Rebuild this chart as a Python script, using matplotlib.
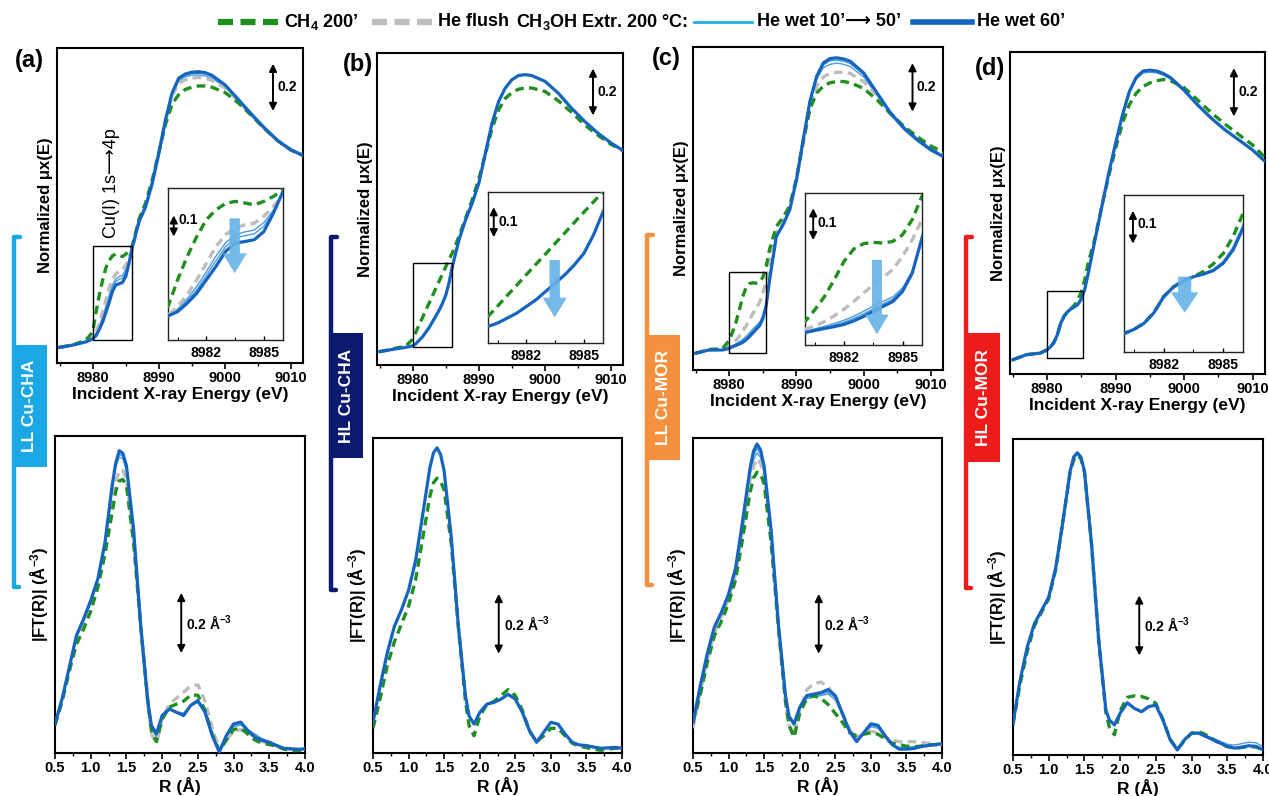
import matplotlib
matplotlib.use("Agg")
import matplotlib.pyplot as plt
from matplotlib.lines import Line2D
from matplotlib.patches import Rectangle, FancyArrow
from matplotlib.ticker import MultipleLocator, FormatStrFormatter

plt.rcParams["font.family"] = ["Liberation Sans", "DejaVu Sans"]
plt.rcParams["font.weight"] = "bold"
plt.rcParams["mathtext.fontset"] = "custom"
plt.rcParams["mathtext.rm"] = "Liberation Sans:bold"
plt.rcParams["mathtext.bf"] = "Liberation Sans:bold"
plt.rcParams["mathtext.default"] = "rm"

# ---- XANES data (normalized mu x(E)) ----
xanes_e = [8975, 8977, 8979, 8980, 8980.5, 8981, 8981.5, 8982, 8982.5, 8983,
           8983.5, 8984, 8984.5, 8985, 8985.5, 8986, 8987, 8988, 8989, 8990,
           8991, 8992, 8993, 8994, 8995, 8996, 8997, 8998, 9000, 9002, 9004,
           9006, 9008, 9010, 9012]

a_xanes_ch4 = [0.003, 0.013, 0.035, 0.070, 0.156, 0.231, 0.295, 0.349, 0.381, 0.401, 0.408, 0.403, 0.397, 0.408, 0.424, 0.446,
               0.56, 0.63, 0.73, 0.85, 0.97, 1.06, 1.10, 1.123, 1.133, 1.138, 1.138, 1.133, 1.11, 1.065, 1.01, 0.952, 0.90, 0.86, 0.833]
a_xanes_flush = [0.003, 0.013, 0.028, 0.043, 0.070, 0.108, 0.156, 0.209, 0.263, 0.301, 0.322, 0.333, 0.338, 0.360, 0.392, 0.429,
                 0.55, 0.615, 0.715, 0.845, 0.985, 1.095, 1.15, 1.165, 1.172, 1.175, 1.172, 1.163, 1.13, 1.072, 1.012, 0.952, 0.899, 0.859, 0.834]
a_xanes_wet = [
    [0.003, 0.013, 0.027, 0.042, 0.062, 0.095, 0.135, 0.182, 0.232, 0.275, 0.300, 0.310, 0.316, 0.340, 0.380, 0.435,
     0.549, 0.614, 0.716, 0.846, 0.99, 1.10, 1.16, 1.178, 1.185, 1.186, 1.182, 1.172, 1.135, 1.075, 1.013, 0.953, 0.899, 0.859, 0.834],
    [0.003, 0.013, 0.027, 0.041, 0.058, 0.088, 0.124, 0.170, 0.217, 0.262, 0.290, 0.298, 0.304, 0.328, 0.375, 0.437,
     0.549, 0.614, 0.716, 0.846, 0.99, 1.104, 1.166, 1.184, 1.192, 1.193, 1.19, 1.179, 1.139, 1.078, 1.015, 0.954, 0.90, 0.86, 0.835],
]
a_xanes_wet60 = [0.003, 0.013, 0.027, 0.040, 0.054, 0.081, 0.113, 0.156, 0.199, 0.247, 0.274, 0.279, 0.285, 0.311, 0.370, 0.440,
                 0.549, 0.614, 0.716, 0.846, 0.991, 1.107, 1.172, 1.19, 1.198, 1.20, 1.196, 1.185, 1.143, 1.08, 1.016, 0.955, 0.90, 0.86, 0.835]

b_xanes_ch4 = [0.0, 0.012, 0.025, 0.055, 0.086, 0.118, 0.149, 0.181, 0.212, 0.243, 0.275, 0.306, 0.338, 0.369, 0.400, 0.430,
               0.50, 0.58, 0.66, 0.75, 0.86, 0.97, 1.05, 1.10, 1.125, 1.14, 1.145, 1.145, 1.13, 1.09, 1.04, 0.985, 0.94, 0.90, 0.87]
b_xanes_wet60 = [0.0, 0.010, 0.019, 0.025, 0.035, 0.050, 0.065, 0.085, 0.105, 0.130, 0.155, 0.180, 0.210, 0.245, 0.300, 0.370,
                 0.486, 0.573, 0.645, 0.732, 0.862, 0.993, 1.087, 1.145, 1.181, 1.199, 1.203, 1.199, 1.174, 1.123, 1.058, 1.000, 0.949, 0.906, 0.870]

c_xanes_ch4 = [0.0, 0.016, 0.020, 0.056, 0.093, 0.135, 0.188, 0.246, 0.285, 0.302, 0.306, 0.304, 0.309, 0.330, 0.378, 0.452,
               0.55, 0.59, 0.64, 0.76, 0.92, 1.06, 1.13, 1.16, 1.175, 1.18, 1.18, 1.175, 1.15, 1.10, 1.04, 0.985, 0.94, 0.90, 0.87]
c_xanes_flush = [0.0, 0.014, 0.016, 0.032, 0.042, 0.056, 0.074, 0.095, 0.119, 0.146, 0.172, 0.196, 0.220, 0.262, 0.314, 0.378,
                 0.52, 0.57, 0.63, 0.755, 0.92, 1.07, 1.16, 1.20, 1.215, 1.22, 1.22, 1.215, 1.18, 1.12, 1.045, 0.98, 0.935, 0.89, 0.86]
c_xanes_wet = [
    [0.0, 0.014, 0.014, 0.025, 0.033, 0.041, 0.050, 0.060, 0.073, 0.088, 0.105, 0.120, 0.134, 0.162, 0.215, 0.32,
     0.507, 0.558, 0.623, 0.754, 0.928, 1.09, 1.19, 1.24, 1.255, 1.26, 1.255, 1.245, 1.20, 1.12, 1.035, 0.97, 0.92, 0.878, 0.848],
    [0.0, 0.014, 0.014, 0.023, 0.030, 0.037, 0.045, 0.054, 0.066, 0.080, 0.096, 0.112, 0.127, 0.157, 0.212, 0.32,
     0.507, 0.558, 0.623, 0.754, 0.928, 1.092, 1.198, 1.252, 1.27, 1.273, 1.268, 1.258, 1.21, 1.126, 1.04, 0.974, 0.924, 0.881, 0.85],
]
c_xanes_wet60 = [0.0, 0.014, 0.014, 0.021, 0.028, 0.034, 0.040, 0.047, 0.058, 0.072, 0.088, 0.104, 0.119, 0.151, 0.209, 0.32,
                 0.507, 0.558, 0.623, 0.754, 0.928, 1.094, 1.203, 1.261, 1.280, 1.283, 1.278, 1.268, 1.217, 1.130, 1.043, 0.978, 0.927, 0.884, 0.852]

d_xanes_ch4 = [0.0, 0.022, 0.029, 0.043, 0.056, 0.075, 0.108, 0.159, 0.190, 0.209, 0.222, 0.238, 0.262, 0.295, 0.348, 0.421,
               0.53, 0.67, 0.80, 0.92, 1.03, 1.11, 1.16, 1.19, 1.205, 1.215, 1.22, 1.215, 1.185, 1.13, 1.075, 1.025, 0.98, 0.935, 0.875]
d_xanes_wet = [
    [0.0, 0.022, 0.029, 0.043, 0.056, 0.075, 0.108, 0.159, 0.190, 0.209, 0.222, 0.233, 0.245, 0.270, 0.315, 0.385,
     0.525, 0.667, 0.81, 0.94, 1.063, 1.163, 1.222, 1.248, 1.252, 1.249, 1.238, 1.222, 1.168, 1.104, 1.047, 0.997, 0.954, 0.911, 0.857],
]
d_xanes_wet60 = [0.0, 0.022, 0.029, 0.043, 0.056, 0.075, 0.108, 0.159, 0.190, 0.209, 0.222, 0.230, 0.241, 0.264, 0.306, 0.374,
                 0.522, 0.667, 0.812, 0.942, 1.065, 1.167, 1.229, 1.257, 1.261, 1.257, 1.246, 1.229, 1.174, 1.109, 1.051, 1.000, 0.957, 0.913, 0.858]

# ---- FT-EXAFS data |FT(R)| ----
exafs_r = [0.5, 0.6, 0.7, 0.8, 0.9, 1.0, 1.1, 1.2, 1.3, 1.35, 1.4, 1.45, 1.5, 1.6, 1.7, 1.8, 1.85, 1.92,
           2.0, 2.1, 2.2, 2.3, 2.4, 2.5, 2.6, 2.7, 2.8, 2.9, 3.0, 3.1, 3.2, 3.3, 3.4, 3.5,
           3.6, 3.7, 3.8, 3.9, 4.0]

a_ft_ch4 = [0.09, 0.17, 0.27, 0.36, 0.41, 0.47, 0.55, 0.66, 0.80, 0.87, 0.905, 0.91, 0.89, 0.70, 0.42, 0.17, 0.07, 0.035,
            0.11, 0.15, 0.16, 0.17, 0.19, 0.19, 0.14, 0.06, 0.005, 0.04, 0.075, 0.08, 0.06, 0.04, 0.03, 0.025,
            0.02, 0.01, 0.005, 0.005, 0.005]
a_ft_flush = [0.09, 0.175, 0.275, 0.375, 0.425, 0.485, 0.56, 0.675, 0.83, 0.90, 0.94, 0.94, 0.91, 0.72, 0.42, 0.16, 0.06, 0.03,
              0.11, 0.16, 0.18, 0.20, 0.22, 0.225, 0.17, 0.08, 0.01, 0.04, 0.07, 0.075, 0.065, 0.05, 0.035, 0.03,
              0.02, 0.012, 0.01, 0.01, 0.01]
a_ft_wet = [
    [0.094, 0.176, 0.28, 0.383, 0.436, 0.497, 0.57, 0.69, 0.875, 0.95, 0.985, 0.978, 0.94, 0.735, 0.42, 0.165, 0.08, 0.05,
     0.115, 0.14, 0.135, 0.13, 0.155, 0.165, 0.135, 0.06, 0.005, 0.05, 0.085, 0.09, 0.075, 0.06, 0.045, 0.035,
     0.025, 0.015, 0.012, 0.01, 0.012],
    [0.094, 0.177, 0.282, 0.386, 0.44, 0.501, 0.574, 0.695, 0.882, 0.957, 0.995, 0.987, 0.948, 0.74, 0.421, 0.166, 0.085, 0.055,
     0.118, 0.142, 0.134, 0.126, 0.155, 0.168, 0.134, 0.058, 0.003, 0.053, 0.09, 0.095, 0.073, 0.055, 0.042, 0.034,
     0.023, 0.014, 0.011, 0.01, 0.011],
]
a_ft_wet60 = [0.094, 0.178, 0.283, 0.389, 0.444, 0.506, 0.578, 0.700, 0.889, 0.965, 1.006, 0.997, 0.956, 0.744, 0.422, 0.167, 0.089, 0.061,
              0.122, 0.144, 0.133, 0.122, 0.156, 0.172, 0.133, 0.056, 0.0, 0.056, 0.094, 0.100, 0.072, 0.050, 0.039, 0.033,
              0.022, 0.013, 0.011, 0.009, 0.011]

b_ft_ch4 = [0.08, 0.18, 0.29, 0.37, 0.43, 0.49, 0.58, 0.72, 0.86, 0.905, 0.92, 0.91, 0.88, 0.70, 0.42, 0.17, 0.09, 0.055,
            0.12, 0.16, 0.17, 0.19, 0.21, 0.19, 0.14, 0.07, 0.035, 0.055, 0.08, 0.08, 0.055, 0.03, 0.02, 0.015,
            0.01, 0.006, 0.01, 0.013, 0.013]
b_ft_wet60 = [0.10, 0.222, 0.333, 0.422, 0.478, 0.544, 0.644, 0.80, 0.956, 1.005, 1.022, 1.0, 0.944, 0.722, 0.422, 0.189, 0.122, 0.094,
              0.133, 0.161, 0.167, 0.178, 0.194, 0.178, 0.133, 0.072, 0.033, 0.067, 0.10, 0.094, 0.061, 0.033, 0.024, 0.022,
              0.017, 0.013, 0.014, 0.016, 0.013]

c_ft_ch4 = [0.10, 0.19, 0.30, 0.39, 0.44, 0.50, 0.58, 0.72, 0.87, 0.92, 0.94, 0.935, 0.90, 0.70, 0.42, 0.17, 0.09, 0.05,
            0.13, 0.18, 0.19, 0.18, 0.16, 0.13, 0.10, 0.065, 0.055, 0.06, 0.065, 0.06, 0.045, 0.03, 0.025, 0.02,
            0.018, 0.02, 0.025, 0.025, 0.025]
c_ft_flush = [0.08, 0.20, 0.31, 0.40, 0.455, 0.515, 0.60, 0.75, 0.91, 0.96, 0.985, 0.97, 0.925, 0.72, 0.42, 0.17, 0.09, 0.06,
              0.14, 0.21, 0.23, 0.235, 0.22, 0.18, 0.13, 0.075, 0.05, 0.06, 0.07, 0.065, 0.05, 0.04, 0.035, 0.035,
              0.035, 0.033, 0.03, 0.028, 0.025]
c_ft_wet = [
    [0.10, 0.215, 0.325, 0.415, 0.465, 0.525, 0.61, 0.765, 0.925, 0.98, 1.005, 0.99, 0.935, 0.725, 0.425, 0.185, 0.115, 0.09,
     0.15, 0.18, 0.185, 0.19, 0.195, 0.175, 0.125, 0.07, 0.04, 0.06, 0.085, 0.08, 0.05, 0.025, 0.015, 0.015,
     0.018, 0.022, 0.025, 0.027, 0.03],
    [0.10, 0.218, 0.328, 0.418, 0.468, 0.528, 0.615, 0.772, 0.937, 0.995, 1.02, 1.0, 0.948, 0.732, 0.428, 0.188, 0.118, 0.092,
     0.15, 0.185, 0.19, 0.195, 0.2, 0.183, 0.128, 0.07, 0.037, 0.062, 0.09, 0.085, 0.052, 0.025, 0.012, 0.012,
     0.015, 0.02, 0.024, 0.026, 0.029],
]
c_ft_wet60 = [0.10, 0.22, 0.33, 0.42, 0.47, 0.53, 0.62, 0.78, 0.95, 1.01, 1.035, 1.015, 0.96, 0.74, 0.43, 0.19, 0.12, 0.095,
              0.15, 0.19, 0.195, 0.20, 0.21, 0.19, 0.13, 0.07, 0.035, 0.065, 0.095, 0.09, 0.055, 0.025, 0.01, 0.01,
              0.012, 0.018, 0.022, 0.025, 0.028]

d_ft_ch4 = [0.10, 0.235, 0.345, 0.43, 0.475, 0.52, 0.62, 0.78, 0.945, 0.985, 1.0, 0.99, 0.945, 0.70, 0.38, 0.14, 0.09, 0.065,
            0.145, 0.19, 0.195, 0.193, 0.185, 0.17, 0.115, 0.05, 0.015, 0.045, 0.07, 0.075, 0.065, 0.05, 0.035, 0.025,
            0.02, 0.022, 0.025, 0.024, 0.015]
d_ft_wet = [
    [0.103, 0.245, 0.355, 0.435, 0.48, 0.525, 0.624, 0.778, 0.945, 0.99, 1.005, 0.99, 0.945, 0.70, 0.38, 0.148, 0.112, 0.095,
     0.135, 0.17, 0.152, 0.14, 0.157, 0.162, 0.113, 0.048, 0.016, 0.05, 0.072, 0.073, 0.063, 0.053, 0.043, 0.033,
     0.03, 0.035, 0.04, 0.038, 0.025],
]
d_ft_wet60 = [0.103, 0.248, 0.359, 0.437, 0.481, 0.526, 0.626, 0.781, 0.948, 0.995, 1.009, 0.995, 0.948, 0.703, 0.381, 0.148, 0.114, 0.098,
              0.137, 0.172, 0.153, 0.142, 0.159, 0.164, 0.114, 0.048, 0.014, 0.048, 0.07, 0.07, 0.059, 0.048, 0.037, 0.026,
              0.02, 0.023, 0.028, 0.026, 0.014]

panel_letters = ["(a)", "(b)", "(c)", "(d)"]
sample_names = ["LL Cu-CHA", "HL Cu-CHA", "LL Cu-MOR", "HL Cu-MOR"]
sample_colors = ["#1aa7e3", "#0b1a6e", "#f5913e", "#ee1b1b"]

# ---- styles ----
GREEN = "#1f8f1f"
GREY = "#bdbdbd"
THIN = "#4d9be0"
THICK = "#1565c0"
W, H = 1269, 796


def px_box(x0, y0, x1, y1):
    return [x0 / W, 1 - y1 / H, (x1 - x0) / W, (y1 - y0) / H]


def fx(x):
    return x / W


def fy(y):
    return 1 - y / H


def draw_set(ax, x, ch4, flush, wet, wet60):
    for y in wet:
        ax.plot(x, y, color=THIN, lw=1.0, zorder=2)
    if flush is not None:
        ax.plot(x, flush, color=GREY, lw=2.4, dashes=(2.6, 1.6), zorder=3)
    ax.plot(x, ch4, color=GREEN, lw=2.4, dashes=(2.6, 1.6), zorder=4)
    ax.plot(x, wet60, color=THICK, lw=2.3, zorder=5)


def double_arrow(ax, x, y0, y1, text, tx, ty, fs=10):
    ax.annotate("", xy=(x, y0), xytext=(x, y1), xycoords="axes fraction",
                arrowprops=dict(arrowstyle="<|-|>", color="k", lw=1.4, mutation_scale=11,
                                shrinkA=0, shrinkB=0))
    ax.text(tx, ty, text, transform=ax.transAxes, fontsize=fs, fontweight="bold",
            ha="left", va="center")


top_boxes = [(57, 48, 303, 363), (377, 53, 623, 365), (693, 47, 943, 370), (1010, 52, 1265, 374)]
bot_boxes = [(55, 436, 305, 753), (373, 438, 622, 753), (693, 438, 942, 753), (1013, 439, 1263, 755)]
inset_boxes = [(168, 188, 283, 340), (488, 192, 603, 343), (805, 193, 922, 345), (1124, 195, 1243, 352)]
top_ylims = [(-0.065, 1.303), (-0.058, 1.297), (-0.073, 1.33), (-0.062, 1.34)]
inset_ylims = [(-0.037, 0.451), (-0.025, 0.43), (-0.018, 0.462), (-0.015, 0.479)]
rects = [(0.035, 6.0, 0.408), (0.02, 6.0, 0.364), (0.0, 5.5, 0.352), (0.009, 5.3, 0.291)]
big_arrows = [(0.58, 0.80, 0.44, 0.09, 0.21), (0.58, 0.55, 0.17, 0.09, 0.21),
              (0.615, 0.56, 0.07, 0.085, 0.20), (0.51, 0.48, 0.25, 0.11, 0.23)]
inset_arrows = [(0.05, 0.68, 0.82, 0.79), (0.05, 0.70, 0.90, 0.80),
                (0.07, 0.69, 0.90, 0.80), (0.075, 0.69, 0.90, 0.815)]
letter_pos = [(15, 61), (343, 65), (652, 58), (975, 69)]
bracket_x = [14, 331, 647, 966]
bracket_y = [(237, 587), (237, 590), (235, 585), (237, 588)]
label_boxes = [(13, 345, 47, 467), (330, 333, 363, 458), (647, 335, 680, 460), (966, 333, 1000, 462)]

xanes_sets = [
    (a_xanes_ch4, a_xanes_flush, a_xanes_wet, a_xanes_wet60),
    (b_xanes_ch4, None, [], b_xanes_wet60),
    (c_xanes_ch4, c_xanes_flush, c_xanes_wet, c_xanes_wet60),
    (d_xanes_ch4, None, d_xanes_wet, d_xanes_wet60),
]
exafs_sets = [
    (a_ft_ch4, a_ft_flush, a_ft_wet, a_ft_wet60),
    (b_ft_ch4, None, [], b_ft_wet60),
    (c_ft_ch4, c_ft_flush, c_ft_wet, c_ft_wet60),
    (d_ft_ch4, None, d_ft_wet, d_ft_wet60),
]

fig = plt.figure(figsize=(W / 100, H / 100), dpi=100)

for i in range(4):
    # XANES panel
    ax = fig.add_axes(px_box(*top_boxes[i]))
    ch4, flush, wet, wet60 = xanes_sets[i]
    draw_set(ax, xanes_e, ch4, flush, wet, wet60)
    ax.set_xlim(8974.6, 9011.8)
    ax.set_ylim(*top_ylims[i])
    ax.set_xticks([8980, 8990, 9000, 9010])
    ax.xaxis.set_minor_locator(MultipleLocator(5))
    ax.set_yticks([])
    ax.tick_params(axis="x", which="major", direction="out", length=4, width=1.2, labelsize=10.5, pad=2)
    ax.tick_params(axis="x", which="minor", direction="out", length=2.5, width=1.0)
    for sp in ax.spines.values():
        sp.set_linewidth(1.5)
    ax.set_xlabel("Incident X-ray Energy (eV)", fontsize=12.5, fontweight="bold", labelpad=1)
    ax.set_ylabel("Normalized \u03bcx(E)", fontsize=12, fontweight="bold", labelpad=3)
    r0, rw, rh = rects[i]
    ax.add_patch(Rectangle((8980, r0), rw, rh, fill=False, lw=1.0, ec="k", zorder=6))
    double_arrow(ax, 0.878, 0.80, 0.95, "0.2", 0.895, 0.875)

    # inset
    axi = fig.add_axes(px_box(*inset_boxes[i]))
    draw_set(axi, xanes_e, ch4, flush, wet, wet60)
    axi.set_xlim(8980, 8986)
    axi.set_ylim(*inset_ylims[i])
    axi.set_xticks([8982, 8985])
    axi.set_xticks([8980.5, 8983.5], minor=True)
    axi.set_yticks([])
    axi.tick_params(axis="x", which="major", direction="in", length=3, width=1.0, labelsize=10, pad=4)
    axi.tick_params(axis="x", which="minor", direction="in", length=2, width=0.8)
    for sp in axi.spines.values():
        sp.set_linewidth(1.0)
        sp.set_color("#222222")
    cx, yt, yb, sw, hw = big_arrows[i]
    axi.add_patch(FancyArrow(cx, yt, 0, -(yt - yb), width=sw, head_width=hw, head_length=0.13,
                             length_includes_head=True, transform=axi.transAxes,
                             color="#66b2e6", alpha=0.9, lw=0, zorder=10))
    ax_x, ay0, ay1, ty = inset_arrows[i]
    double_arrow(axi, ax_x, ay0, ay1, "0.1", ax_x + 0.04, ty, fs=10)

    # FT-EXAFS panel
    bx = fig.add_axes(px_box(*bot_boxes[i]))
    ch4, flush, wet, wet60 = exafs_sets[i]
    draw_set(bx, exafs_r, ch4, flush, wet, wet60)
    bx.set_xlim(0.5, 4.0)
    bx.set_ylim(-0.003, 1.055)
    bx.set_xticks([0.5, 1.0, 1.5, 2.0, 2.5, 3.0, 3.5, 4.0])
    bx.xaxis.set_major_formatter(FormatStrFormatter("%.1f"))
    bx.xaxis.set_minor_locator(MultipleLocator(0.25))
    bx.set_yticks([])
    bx.tick_params(axis="x", which="major", direction="out", length=4, width=1.2, labelsize=10.5, pad=2)
    bx.tick_params(axis="x", which="minor", direction="out", length=2.5, width=1.0)
    for sp in bx.spines.values():
        sp.set_linewidth(1.5)
    bx.set_xlabel("R (\u00c5)", fontsize=12.5, fontweight="bold", labelpad=1)
    bx.set_ylabel("|FT(R)| (\u00c5$^{-3}$)", fontsize=12, fontweight="bold", labelpad=3)
    double_arrow(bx, 0.505, 0.315, 0.505, "0.2 \u00c5$^{-3}$", 0.525, 0.41)

    # panel letter
    lx, ly = letter_pos[i]
    fig.text(fx(lx), fy(ly), panel_letters[i], fontsize=17, fontweight="bold", ha="left", va="center")

    # coloured sample bracket and label
    bxp = bracket_x[i]
    yt_, yb_ = bracket_y[i]
    fig.add_artist(Line2D([fx(bxp + 6), fx(bxp), fx(bxp), fx(bxp + 5)],
                          [fy(yt_), fy(yt_), fy(yb_), fy(yb_)],
                          color=sample_colors[i], lw=3.2, solid_capstyle="round",
                          solid_joinstyle="round"))
    x0, y0, x1, y1 = label_boxes[i]
    fig.add_artist(Rectangle((fx(x0), fy(y1)), fx(x1) - fx(x0), fy(y0) - fy(y1),
                             transform=fig.transFigure, color=sample_colors[i], lw=0))
    fig.text(fx((x0 + x1) / 2), fy((y0 + y1) / 2), sample_names[i], rotation=90, color="white",
             fontsize=12.5, fontweight="bold", ha="center", va="center")

# Cu(I) 1s->4p annotation in panel (a)
fig.text(fx(111), fy(183), "Cu(I) 1s\u27f64p", rotation=90, fontsize=13, fontweight="normal",
         ha="center", va="center")

# ---- top legend ----
ly = fy(22)
fig.add_artist(Line2D([fx(218), fx(278)], [ly, ly], color=GREEN, lw=4.5, dashes=(2.4, 1.2)))
fig.text(fx(284), ly, "CH$_4$ 200\u2019", fontsize=13, fontweight="bold", va="center", ha="left")
fig.add_artist(Line2D([fx(372), fx(432)], [ly, ly], color=GREY, lw=4.5, dashes=(2.4, 1.2)))
fig.text(fx(438), ly, "He flush", fontsize=13, fontweight="bold", va="center", ha="left")
fig.text(fx(688), ly, "CH$_3$OH Extr. 200 \u00b0C:", fontsize=13, fontweight="bold", va="center", ha="right")
fig.add_artist(Line2D([fx(694), fx(752)], [ly, ly], color="#22aae2", lw=2.0))
fig.text(fx(757), ly, "He wet 10\u2019\u27f6 50\u2019", fontsize=13, fontweight="bold", va="center", ha="left")
fig.add_artist(Line2D([fx(913), fx(972)], [ly, ly], color=THICK, lw=4.0))
fig.text(fx(977), ly, "He wet 60\u2019", fontsize=13, fontweight="bold", va="center", ha="left")

fig.savefig("out.png", dpi=100)
